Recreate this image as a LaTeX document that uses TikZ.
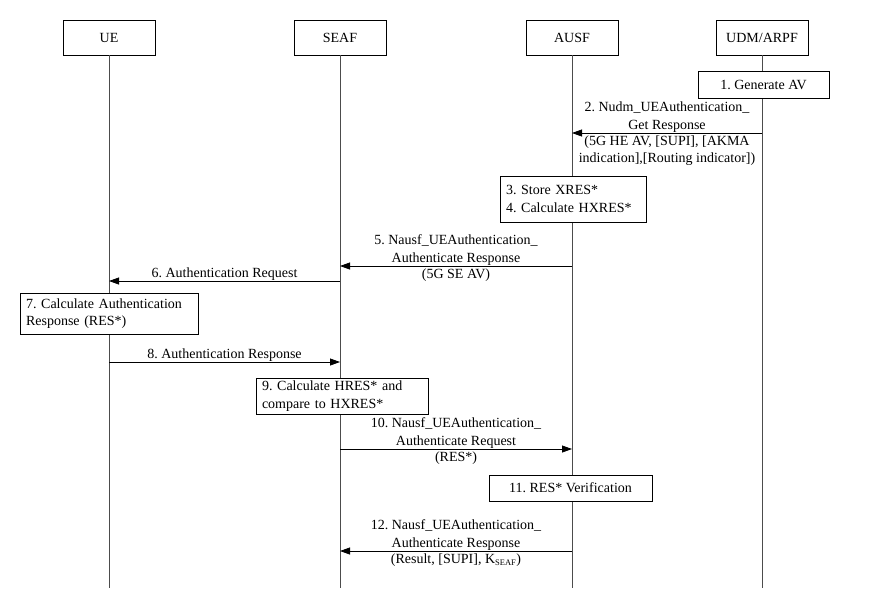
\documentclass[tikz,border=0pt]{standalone}
\usepackage{fontspec}
\setmainfont{Liberation Serif}
\usetikzlibrary{arrows.meta,positioning,calc}
\tikzset{
  entity/.style={draw, line width=0.8pt, fill=white, minimum width=92pt, minimum height=35pt,
                 inner sep=2pt, font=\fontsize{14}{17}\selectfont},
  action/.style={draw, line width=0.8pt, fill=white, inner xsep=6pt, inner ysep=2pt, align=left,
                 font=\fontsize{14}{17.5}\selectfont},
  life/.style={black!70, line width=0.8pt},
  msg/.style={-{Triangle[length=10pt,width=7pt]}, black, line width=0.8pt},
  lbl/.style={font=\fontsize{14}{17.5}\selectfont, align=center, inner sep=2pt},
  above lbl/.style={lbl, anchor=south, inner ysep=0.5pt},
  below lbl/.style={lbl, anchor=north},
}
\begin{document}
\frenchspacing
\begin{tikzpicture}[x=1pt,y=-1pt]
    \useasboundingbox (0,0) rectangle (882,603);
    % entities
    \node[entity] (ue)   at (109,37.5) {UE};
    \node[entity] (seaf) at (340,37.5) {SEAF};
    \node[entity] (ausf) at (572,37.5) {AUSF};
    \node[entity] (udm)  at (762,37.5) {UDM/ARPF};
    % lifelines
    \coordinate (ue-end)   at (109,588);
    \coordinate (seaf-end) at (340,588);
    \coordinate (ausf-end) at (572,588);
    \coordinate (udm-end)  at (762,588);
    \draw[life] (ue) -- (ue-end);
    \draw[life] (seaf) -- (seaf-end);
    \draw[life] (ausf) -- (ausf-end);
    \draw[life] (udm) -- (udm-end);
    % message end points
    \coordinate (udm-2)  at (762,133); \coordinate (ausf-2)  at (572,133);
    \coordinate (ausf-5) at (572,266); \coordinate (seaf-5)  at (340,266);
    \coordinate (seaf-6) at (340,281); \coordinate (ue-6)    at (109,281);
    \coordinate (ue-8)   at (109,362); \coordinate (seaf-8)  at (340,362);
    \coordinate (seaf-10) at (340,449); \coordinate (ausf-10) at (572,449);
    \coordinate (ausf-12) at (572,551); \coordinate (seaf-12) at (340,551);
    % steps
    \node[action, minimum width=131pt, minimum height=27pt, align=center] (s1) at (763.5,84.5) {1. Generate AV};
    \draw[msg] (udm-2) -- node[above lbl] (l2a) {2. Nudm\_UEAuthentication\_\\Get Response}
                          node[below lbl] (l2b) {(5G HE AV, [SUPI], [AKMA\\indication],[Routing indicator])} (ausf-2);
    \node[action, text width=134pt, minimum height=46pt] (s3) at (573,199) {3. Store XRES*\\4. Calculate HXRES*};
    \draw[msg] (ausf-5) -- node[above lbl] (l5a) {5. Nausf\_UEAuthentication\_\\Authenticate Response}
                           node[below lbl] (l5b) {(5G SE AV)} (seaf-5);
    \draw[msg] (seaf-6) -- node[above lbl] (l6) {6. Authentication Request} (ue-6);
    \node[action, text width=166pt, minimum height=41pt] (s7) at (109,313.5) {7. Calculate Authentication\\Response (RES*)};
    \draw[msg] (ue-8) -- node[above lbl] (l8) {8. Authentication Response} (seaf-8);
    \node[action, text width=160pt, minimum height=36pt] (s9) at (342,396) {9. Calculate HRES* and\\compare to HXRES*};
    \draw[msg] (seaf-10) -- node[above lbl] (l10a) {10. Nausf\_UEAuthentication\_\\Authenticate Request}
                            node[below lbl] (l10b) {(RES*)} (ausf-10);
    \node[action, minimum width=163pt, minimum height=26pt, align=center] (s11) at (570.5,488) {11. RES* Verification};
    \draw[msg] (ausf-12) -- node[above lbl] (l12a) {12. Nausf\_UEAuthentication\_\\Authenticate Response}
                            node[below lbl] (l12b) {(Result, [SUPI], K\textsubscript{\fontsize{8.5}{8.5}\selectfont SEAF})} (seaf-12);
\end{tikzpicture}
\end{document}
